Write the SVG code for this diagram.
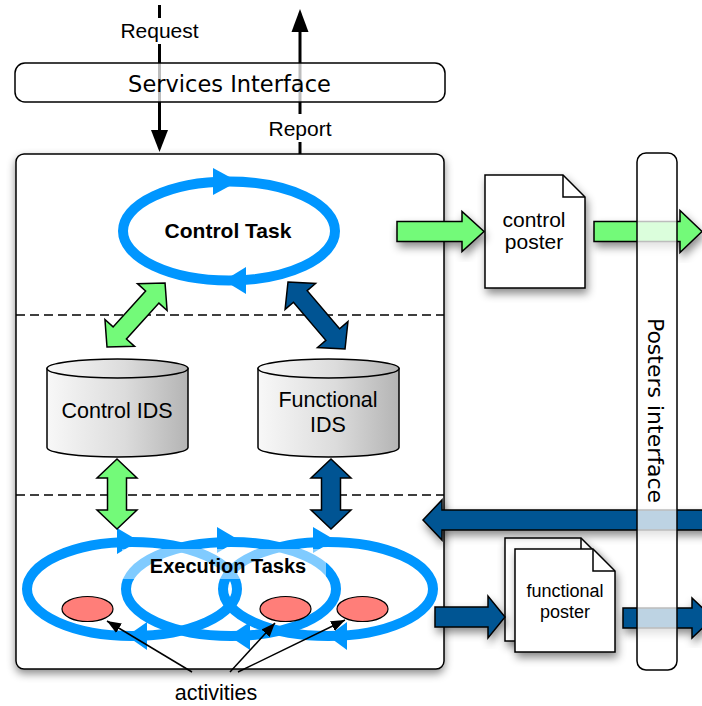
<svg xmlns="http://www.w3.org/2000/svg" width="702" height="706" viewBox="0 0 702 706">
<defs>
<style>
.lbl{font-family:"Liberation Sans",Arial,sans-serif;fill:#000}
.fut{font-family:"DejaVu Sans",sans-serif;fill:#000}
.bold{font-family:"Liberation Sans",Arial,sans-serif;font-weight:bold;fill:#000}
.loop{fill:none;stroke:#0096FF;stroke-width:10}
.loophead{fill:#0096FF}
.green{fill:#73FA79;stroke:#000;stroke-width:1.5;stroke-linejoin:miter}
.blue{fill:#005493;stroke:#000;stroke-width:1.5;stroke-linejoin:miter}
.dash{stroke:#000;stroke-width:1.5;stroke-dasharray:9 5;fill:none}
.doc{fill:#fff;stroke:#000;stroke-width:1.5}
.act{fill:#FF7E79;stroke:#000;stroke-width:1.2}
.ptr{stroke:#000;stroke-width:1.5;fill:none;marker-end:url(#ah)}
.veil{fill:#fff;fill-opacity:0.74;stroke:#000;stroke-width:1.5}
</style>
<marker id="ah" viewBox="0 0 14 11" refX="14" refY="5.5" markerWidth="14" markerHeight="11" markerUnits="userSpaceOnUse" orient="auto">
<path d="M0,0 L14,5.5 L0,11 Z" fill="#000"/>
</marker>
<linearGradient id="cyl" x1="0" y1="0" x2="1" y2="0">
<stop offset="0" stop-color="#f8f8f8"/>
<stop offset="0.55" stop-color="#dcdcdc"/>
<stop offset="1" stop-color="#b4b4b4"/>
</linearGradient>
<filter id="sh" x="-10%" y="-10%" width="125%" height="125%">
<feDropShadow dx="0" dy="4" stdDeviation="4" flood-color="#000" flood-opacity="0.45"/>
</filter>
<filter id="sh2" x="-15%" y="-15%" width="140%" height="140%">
<feDropShadow dx="2" dy="5" stdDeviation="4" flood-color="#000" flood-opacity="0.45"/>
</filter>
</defs>

<g id="connectors-top">
<line x1="159.5" y1="5" x2="159.5" y2="134" stroke="#000" stroke-width="3"/>
<polygon points="151,130 168,130 159.5,152" fill="#000"/>
<line x1="300" y1="155" x2="300" y2="28" stroke="#000" stroke-width="3"/>
<polygon points="291.5,32 308.5,32 300,9" fill="#000"/>
</g>

<g id="services-interface">
<rect class="veil" x="15" y="63" width="430" height="39" rx="10"/>
<text class="fut" x="229.5" y="92" font-size="22.5" text-anchor="middle">Services Interface</text>
</g>

<g id="labels-request-report">
<rect x="116" y="18" width="87" height="26" fill="#fff"/>
<text class="lbl" x="159.5" y="38" font-size="21" text-anchor="middle">Request</text>
<rect x="265" y="114" width="70" height="28" fill="#fff"/>
<text class="lbl" x="300" y="136" font-size="21" text-anchor="middle">Report</text>
</g>

<g id="main-box">
<rect x="16" y="154" width="428" height="515" rx="8" fill="#fff" stroke="#000" stroke-width="1.5" filter="url(#sh)"/>
<line class="dash" x1="16" y1="315" x2="444" y2="315"/>
<line class="dash" x1="16" y1="495" x2="444" y2="495"/>
</g>

<g id="control-task">
<ellipse class="loop" cx="229" cy="231" rx="106" ry="49.5"/>
<polygon class="loophead" points="213,168 238,181.5 213,195"/>
<polygon class="loophead" points="246,267 224,280.5 246,294"/>
<text class="bold" x="228" y="238" font-size="21" text-anchor="middle">Control Task</text>
</g>

<g id="control-ids">
<path d="M47,368.5 V447.5 A70.5,9.5 0 0 0 188,447.5 V368.5 Z" fill="url(#cyl)" stroke="#000" stroke-width="1.5"/>
<ellipse cx="117.5" cy="368.5" rx="70.5" ry="9.5" fill="url(#cyl)" stroke="#000" stroke-width="1.5"/>
<text class="lbl" x="117" y="418" font-size="21.5" text-anchor="middle">Control IDS</text>
</g>

<g id="functional-ids">
<path d="M258,368.5 V447.5 A70.5,9.5 0 0 0 399,447.5 V368.5 Z" fill="url(#cyl)" stroke="#000" stroke-width="1.5"/>
<ellipse cx="328.5" cy="368.5" rx="70.5" ry="9.5" fill="url(#cyl)" stroke="#000" stroke-width="1.5"/>
<text class="lbl" x="328" y="407" font-size="21.5" text-anchor="middle">Functional</text>
<text class="lbl" x="328" y="432" font-size="21.5" text-anchor="middle">IDS</text>
</g>

<g id="execution-tasks">
<ellipse class="loop" cx="132" cy="589" rx="105" ry="47"/>
<ellipse class="loop" cx="231" cy="589" rx="105" ry="47"/>
<ellipse class="loop" cx="328" cy="589" rx="105" ry="47"/>
<polygon class="loophead" points="117,528 139,541 117,554"/>
<polygon class="loophead" points="217,527 239,540 217,553"/>
<polygon class="loophead" points="313,527 335,540 313,553"/>
<polygon class="loophead" points="147,622 127,636 147,650"/>
<polygon class="loophead" points="250,622 229,636 250,650"/>
<polygon class="loophead" points="347,622 328,636 347,650"/>
<rect x="122" y="549" width="204" height="30" fill="#fff" fill-opacity="0.5"/>
<text class="bold" x="228" y="573" font-size="20" text-anchor="middle">Execution Tasks</text>
</g>

<g id="activities">
<ellipse class="act" cx="87.5" cy="609" rx="25.5" ry="12.5"/>
<ellipse class="act" cx="285.5" cy="609" rx="25.5" ry="12.5"/>
<ellipse class="act" cx="362.5" cy="609" rx="25.5" ry="12.5"/>
<text class="lbl" x="216" y="700" font-size="21.5" text-anchor="middle">activities</text>
</g>

<g id="control-poster">
<path class="doc" d="M485,175 H563 L585,197 V288 H485 Z" filter="url(#sh2)"/>
<path d="M563,175 V197 H585" fill="none" stroke="#000" stroke-width="1.5"/>
<text class="lbl" x="534" y="227" font-size="21" text-anchor="middle">control</text>
<text class="lbl" x="534" y="249" font-size="21" text-anchor="middle">poster</text>
</g>

<g id="functional-poster">
<path class="doc" d="M505,538 H581 L603,560 V641 H505 Z" filter="url(#sh2)"/>
<path d="M581,538 V560 H603" fill="none" stroke="#000" stroke-width="1.5"/>
<path class="doc" d="M515,549 H593 L615,571 V652 H515 Z" filter="url(#sh2)"/>
<path d="M593,549 V571 H615" fill="none" stroke="#000" stroke-width="1.5"/>
<text class="lbl" x="565" y="597" font-size="18" text-anchor="middle">functional</text>
<text class="lbl" x="565" y="618" font-size="18" text-anchor="middle">poster</text>
</g>

<g id="connectors">
<path class="green" transform="translate(107,347) rotate(-47.8)" d="M0,0 L19,-20 L19,-9 L67.4,-9 L67.4,-20 L86.4,0 L67.4,20 L67.4,9 L19,9 L19,20 Z"/>
<path class="blue" transform="translate(288,282) rotate(49.6)" d="M0,0 L19,-20 L19,-9 L69,-9 L69,-20 L88,0 L69,20 L69,9 L19,9 L19,20 Z"/>
<path class="green" transform="translate(117,459) rotate(90)" d="M0,0 L19,-20 L19,-9.5 L51,-9.5 L51,-20 L70,0 L51,20 L51,9.5 L19,9.5 L19,20 Z"/>
<path class="blue" transform="translate(331,459) rotate(90)" d="M0,0 L19,-20 L19,-9.5 L51,-9.5 L51,-20 L70,0 L51,20 L51,9.5 L19,9.5 L19,20 Z"/>
<line class="ptr" x1="192" y1="672" x2="107" y2="621"/>
<line class="ptr" x1="230" y1="672" x2="275" y2="623"/>
<line class="ptr" x1="238" y1="672" x2="345" y2="620"/>
<path class="green" d="M397,221.5 H462 V211.5 L484,231.5 L462,251.5 V241.5 H397 Z" filter="url(#sh2)"/>
<path class="green" d="M594,221.5 H680 V210.5 L702,231.5 L680,252.5 V241.5 H594 Z" filter="url(#sh2)"/>
<path class="blue" d="M712,510 H442 V500 L423,520 L442,540 V530 H712 Z" filter="url(#sh2)"/>
<path class="blue" d="M435,607 H488 V596 L505,617 L488,638 V627 H435 Z" filter="url(#sh2)"/>
<path class="blue" d="M623,608 H692 V598 L713,618 L692,638 V628 H623 Z" filter="url(#sh2)"/>
</g>

<g id="posters-interface">
<rect class="veil" x="637" y="153" width="40" height="517" rx="9"/>
<text class="fut" transform="translate(648,410.5) rotate(90)" font-size="22" text-anchor="middle">Posters interface</text>
</g>
</svg>
